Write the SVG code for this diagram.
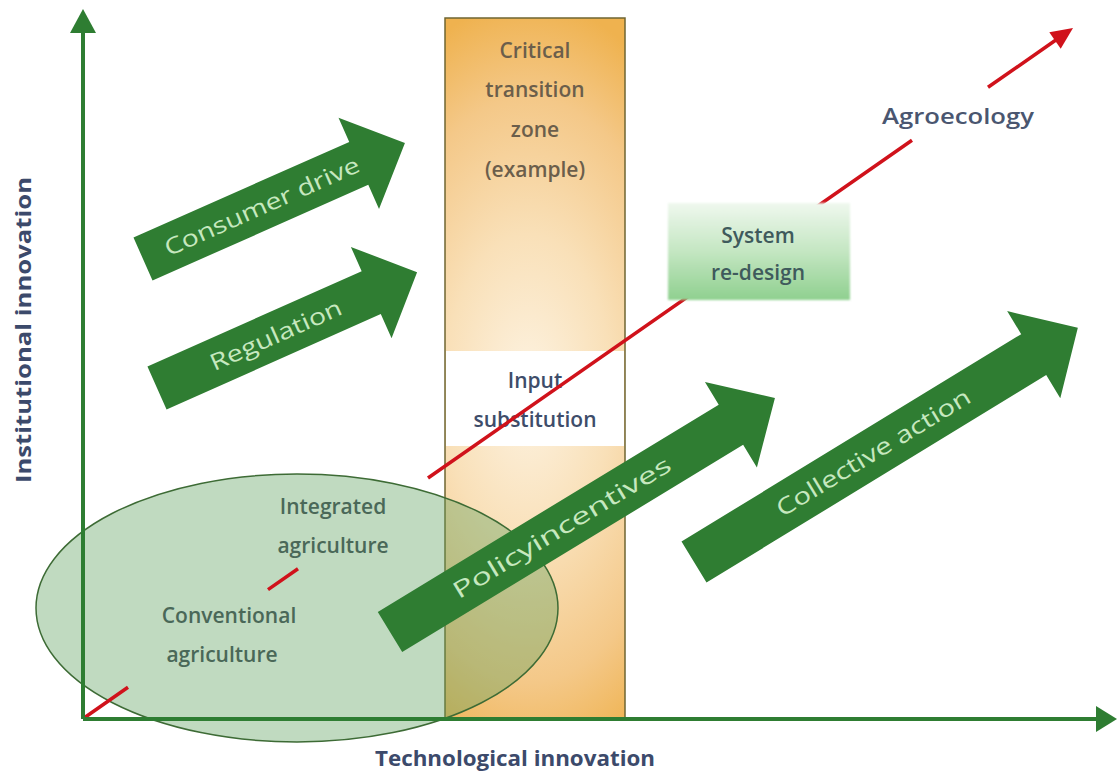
<svg xmlns="http://www.w3.org/2000/svg" width="1118" height="771" viewBox="0 0 1118 771">
<defs>
<radialGradient id="orangeGrad" gradientUnits="userSpaceOnUse" cx="0" cy="0" r="1" gradientTransform="translate(528,390) scale(210,390)">
<stop offset="0" stop-color="#fdf3e2"/>
<stop offset="0.4" stop-color="#f9e0b8"/>
<stop offset="0.75" stop-color="#f4c888"/>
<stop offset="1" stop-color="#efb24f"/>
</radialGradient>
<linearGradient id="sysGrad" x1="0" y1="0" x2="0" y2="1">
<stop offset="0" stop-color="#eff8ee"/>
<stop offset="0.5" stop-color="#c4e6c2"/>
<stop offset="1" stop-color="#8fd08f"/>
</linearGradient>
<filter id="soft" x="-5%" y="-5%" width="110%" height="110%">
<feGaussianBlur stdDeviation="1.2"/>
</filter>
<style>
.axis{stroke:#2e7d32;stroke-width:4;fill:none}
.axhead{fill:#2e7d32}
.red{stroke:#d0121b;stroke-width:3.5;fill:none}
.garrow{fill:#2f7d32}
.atext{font-family:"Open Sans","Liberation Sans",sans-serif;font-size:23px;fill:#c6e8bf;text-anchor:middle}
.lab{font-family:"Open Sans","Liberation Sans",sans-serif;font-size:21px;font-weight:600;text-anchor:middle}
.axl{font-family:"Open Sans","Liberation Sans",sans-serif;font-size:22px;font-weight:700;fill:#3c4a6b;text-anchor:middle}
</style>
</defs>
<rect width="1118" height="771" fill="#ffffff"/>

<g id="transition-zone">
<rect x="445" y="18" width="180" height="700" fill="url(#orangeGrad)" stroke="#6f6532" stroke-width="1.5"/>
<text class="lab" fill="#6b5e4b"><tspan x="535" y="58">Critical</tspan><tspan x="535" y="97">transition</tspan><tspan x="535" y="137">zone</tspan><tspan x="535" y="177">(example)</tspan></text>
</g>

<g id="input-substitution">
<rect x="446" y="351" width="178" height="95" fill="#ffffff"/>
<text class="lab" fill="#3e4d6a"><tspan x="535" y="388">Input</tspan><tspan x="535" y="427">substitution</tspan></text>
</g>

<g id="farming-ellipse">
<ellipse cx="297" cy="608" rx="261" ry="134" fill="#5a9f5a" fill-opacity="0.38" stroke="#3d6b35" stroke-width="1.5"/>
<text class="lab" fill="#4a6858" font-size="22"><tspan x="333" y="514">Integrated</tspan><tspan x="333" y="553">agriculture</tspan></text>
<text class="lab" fill="#4a6858" font-size="22"><tspan x="229" y="623">Conventional</tspan><tspan x="222" y="662">agriculture</tspan></text>
</g>

<g id="connectors">
<path class="red" d="M84,718 L128,687.3 M268,589.6 L298,568.7 M428,478 L912,140.3 M988,87.3 L1058,38.5"/>
<polygon fill="#d0121b" points="1073,28 1060.7,48.7 1049.3,32.3"/>
<line class="axis" x1="83" y1="719" x2="83" y2="30"/>
<polygon class="axhead" points="83,9 70,33 96,33"/>
<line class="axis" x1="83" y1="719" x2="1098" y2="719"/>
<polygon class="axhead" points="1117,719 1096,706 1096,732"/>
</g>

<g id="system-redesign">
<rect x="668" y="203" width="182" height="97" fill="url(#sysGrad)" filter="url(#soft)"/>
<text class="lab" fill="#3f5a5c" font-size="23"><tspan x="758" y="243">System</tspan><tspan x="758" y="280">re-design</tspan></text>
</g>

<g id="agroecology">
<text class="lab" fill="#4a5670" x="958" y="124" font-size="22" textLength="152" lengthAdjust="spacingAndGlyphs">Agroecology</text>
</g>

<g id="consumer-drive" transform="translate(143,259) rotate(-23.9)">
<path class="garrow" d="M0,-23.5 L236,-23.5 L236,-50 L286.5,0 L236,50 L236,23.5 L0,23.5 Z"/>
<text class="atext" x="130" y="8" textLength="211" lengthAdjust="spacingAndGlyphs">Consumer drive</text>
</g>

<g id="regulation" transform="translate(157,388) rotate(-24)">
<path class="garrow" d="M0,-23.5 L234.5,-23.5 L234.5,-50 L284.7,0 L234.5,50 L234.5,23.5 L0,23.5 Z"/>
<text class="atext" x="130" y="8" textLength="142" lengthAdjust="spacingAndGlyphs">Regulation</text>
</g>

<g id="policy-incentives" transform="translate(390,632) rotate(-31.3)">
<path class="garrow" d="M0,-23.5 L399,-23.5 L399,-50 L450.5,0 L399,50 L399,23.5 L0,23.5 Z"/>
<text class="atext" x="201" y="8" textLength="251" lengthAdjust="spacingAndGlyphs">Policyincentives</text>
</g>

<g id="collective-action" transform="translate(694,562) rotate(-31.4)">
<path class="garrow" d="M0,-24 L398,-24 L398,-51 L449.7,0 L398,51 L398,24 L0,24 Z"/>
<text class="atext" x="210" y="8" textLength="223" lengthAdjust="spacingAndGlyphs">Collective action</text>
</g>

<g id="axis-labels">
<text class="axl" transform="translate(31,330) rotate(-90)" x="0" y="0" textLength="306" lengthAdjust="spacingAndGlyphs">Institutional innovation</text>
<text class="axl" x="515" y="766" font-weight="600" fill="#48526a" textLength="280" lengthAdjust="spacingAndGlyphs">Technological innovation</text>
</g>
</svg>
